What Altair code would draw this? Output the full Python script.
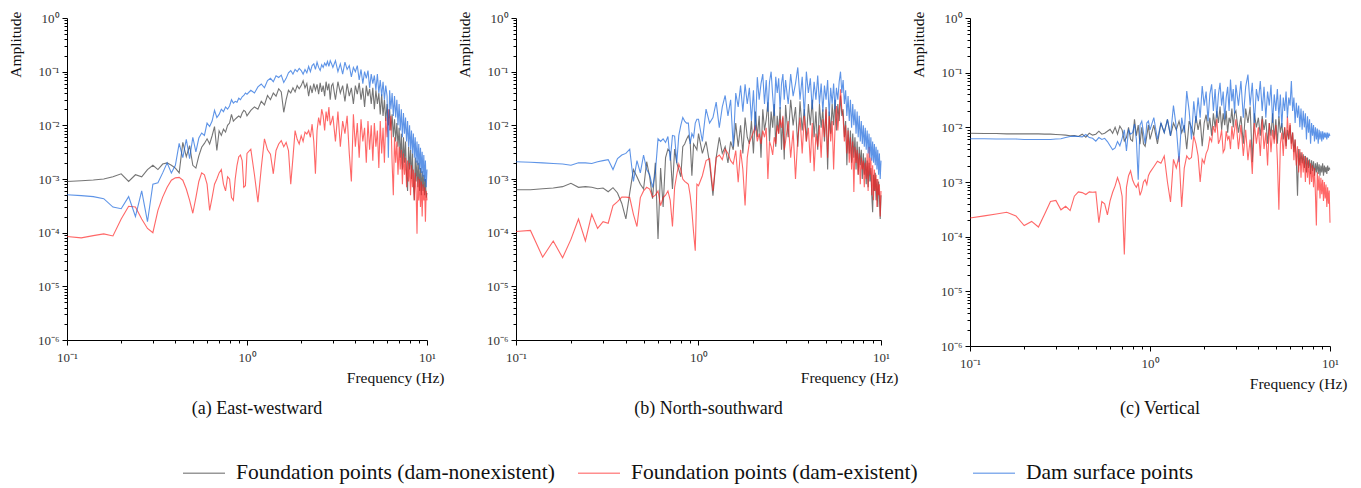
import altair as alt
import pandas as pd

# ---------------- frequency grid (Hz) ----------------
FREQ_LOW = [0.10, 0.12, 0.14, 0.16, 0.18, 0.20, 0.22, 0.24, 0.26, 0.28,
            0.30, 0.32, 0.34, 0.36, 0.38, 0.40, 0.42, 0.44, 0.46, 0.48,
            0.50, 0.52, 0.54, 0.56, 0.58, 0.60, 0.62, 0.64, 0.66, 0.68,
            0.70, 0.72, 0.74, 0.76, 0.78, 0.80, 0.82, 0.84, 0.86, 0.88,
            0.90, 0.92, 0.94, 0.96, 0.98]
FREQ_MID = [1.00, 1.05, 1.10, 1.15, 1.20, 1.25, 1.30, 1.35, 1.40, 1.45,
            1.50, 1.55, 1.60, 1.65, 1.70, 1.75, 1.80, 1.85, 1.90, 1.95,
            2.00, 2.05, 2.10, 2.15, 2.20, 2.25, 2.30, 2.35, 2.40, 2.45,
            2.50, 2.55, 2.60, 2.65, 2.70, 2.75, 2.80, 2.85, 2.90, 2.95]
FREQ_HIGH = [3.0, 3.1, 3.2, 3.3, 3.4, 3.5, 3.6, 3.7, 3.8, 3.9,
             4.0, 4.1, 4.2, 4.3, 4.4, 4.5, 4.6, 4.7, 4.8, 4.9,
             5.0, 5.1, 5.2, 5.3, 5.4, 5.5, 5.6, 5.7, 5.8, 5.9,
             6.0, 6.1, 6.2, 6.3, 6.4, 6.5, 6.6, 6.7, 6.8, 6.9,
             7.0, 7.1, 7.2, 7.3, 7.4, 7.5, 7.6, 7.7, 7.8, 7.9,
             8.0, 8.1, 8.2, 8.3, 8.4, 8.5, 8.6, 8.7, 8.8, 8.9,
             9.0, 9.1, 9.2, 9.3, 9.4, 9.5, 9.6, 9.7, 9.8, 9.9,
             10.0]
FREQ = FREQ_LOW + FREQ_MID + FREQ_HIGH

SERIES = ["Foundation points (dam-nonexistent)",
          "Foundation points (dam-existent)",
          "Dam surface points"]
COLORS = ["#333333", "#ff1f1f", "#1262dc"]

PANEL_TITLES = ["(a) East-westward", "(b) North-southward", "(c) Vertical"]

X_TICKS = [0.1, 0.2, 0.3, 0.4, 0.5, 0.6, 0.7, 0.8, 0.9,
           1, 2, 3, 4, 5, 6, 7, 8, 9, 10]
Y_TICKS = [1e-6, 2e-6, 3e-6, 4e-6, 5e-6, 6e-6, 7e-6, 8e-6, 9e-6,
           1e-5, 2e-5, 3e-5, 4e-5, 5e-5, 6e-5, 7e-5, 8e-5, 9e-5,
           1e-4, 2e-4, 3e-4, 4e-4, 5e-4, 6e-4, 7e-4, 8e-4, 9e-4,
           1e-3, 2e-3, 3e-3, 4e-3, 5e-3, 6e-3, 7e-3, 8e-3, 9e-3,
           1e-2, 2e-2, 3e-2, 4e-2, 5e-2, 6e-2, 7e-2, 8e-2, 9e-2,
           1e-1, 2e-1, 3e-1, 4e-1, 5e-1, 6e-1, 7e-1, 8e-1, 9e-1,
           1.0]

# ---------------- (a) East-westward ----------------
A_BLACK = [9e-4, 9.3e-4, 9.6e-4, 1.0e-3, 1.1e-3, 1.25e-3, 9e-4, 1.2e-3, 1.1e-3, 1.5e-3,
           1.8e-3, 1.5e-3, 1.9e-3, 2.0e-3, 1.8e-3, 1.6e-3, 1.3e-3, 4.8e-3, 2.6e-3, 4.2e-3,
           1.8e-3, 1.6e-3, 2.7e-3, 3.9e-3, 4.6e-3, 5.6e-3, 4.5e-3, 6.4e-3, 9.5e-3, 3.4e-3,
           7.9e-3, 6.5e-3, 8.5e-3, 7.5e-3, 1.0e-2, 1.1e-2, 1.6e-2, 1.2e-2, 1.3e-2, 1.4e-2,
           1.5e-2, 1.4e-2, 1.7e-2, 1.9e-2, 1.8e-2,
           1.5e-2, 1.9e-2, 2.2e-2, 2.0e-2, 2.8e-2, 2.4e-2, 3.6e-2, 3.0e-2, 4.0e-2, 3.5e-2,
           4.8e-2, 4.2e-2, 1.75e-2, 3.0e-2, 4.5e-2, 4.0e-2, 5.0e-2, 4.2e-2, 5.5e-2, 4.8e-2,
           5.5e-2, 6.8e-2, 5.0e-2, 6.0e-2, 3.5e-2, 5.5e-2, 4.0e-2, 6.0e-2, 4.5e-2, 5.8e-2,
           3.8e-2, 6.2e-2, 4.2e-2, 5.5e-2, 3.5e-2, 6.5e-2, 4.5e-2, 6.0e-2, 3.0e-2, 5.5e-2,
           6.0e-2, 3.0e-2, 6.5e-2, 4.0e-2, 5.5e-2, 2.8e-2, 6.0e-2, 3.5e-2, 5.0e-2, 2.5e-2,
           5.5e-2, 3.8e-2, 6.2e-2, 3.0e-2, 5.0e-2, 2.2e-2, 5.5e-2, 3.5e-2, 4.8e-2, 2.5e-2,
           5.0e-2, 2.0e-2, 4.5e-2, 2.5e-2, 4.0e-2, 1.6e-2, 3.8e-2, 1.5e-2, 3.0e-2, 1.2e-2,
           2.5e-2, 1.0e-2, 2.0e-2, 8e-3, 1.6e-2, 6e-3, 1.3e-2, 5e-3, 1.1e-2, 4e-3,
           9e-3, 2.5e-3, 7e-3, 1.5e-3, 6e-3, 2e-3, 5e-3, 1.2e-3, 6e-4, 4e-3,
           1.5e-3, 3.5e-3, 1e-3, 3e-3, 8e-4, 4e-4, 2.5e-3, 9e-4, 2.2e-3, 7e-4,
           2e-3, 6e-4, 1.6e-3, 5e-4, 1.4e-3, 6e-4, 1.2e-3, 5e-4, 1e-3, 4.5e-4,
           5.5e-4]
A_RED = [8.5e-5, 8e-5, 8.8e-5, 9.5e-5, 8.7e-5, 1.8e-4, 3.1e-4, 3.0e-4, 1.8e-4, 1.2e-4,
         1.0e-4, 2.6e-4, 4.6e-4, 7e-4, 9.5e-4, 1.05e-3, 1.07e-3, 9.5e-4, 6.5e-4, 4e-4,
         2.3e-4, 4.5e-4, 9e-4, 1.3e-3, 1.2e-3, 8e-4, 2.6e-4, 4.5e-4, 8e-4, 1.0e-3,
         1.3e-3, 1.5e-3, 8e-4, 6e-4, 1.1e-3, 1.0e-3, 4.5e-4, 4e-4, 1.0e-3, 1.8e-3,
         2.6e-3, 2.8e-3, 2.2e-3, 7e-4, 7.5e-4,
         3.0e-3, 3.6e-3, 1.2e-3, 3.7e-4, 1.6e-3, 5.6e-3, 3.5e-3, 2.9e-3, 1.25e-3, 3.4e-3,
         4.5e-3, 5.2e-3, 4.0e-3, 4.8e-3, 3.4e-3, 8e-4, 2.5e-3, 8e-3, 5.5e-3, 4.5e-3,
         6.4e-3, 5.0e-3, 7.5e-3, 6.9e-3, 8.0e-3, 6.0e-3, 1.05e-2, 5.0e-3, 1.25e-3, 8.0e-3,
         1.4e-2, 1.0e-2, 2.0e-2, 1.5e-2, 8.0e-3, 1.8e-2, 1.2e-2, 2.2e-2, 1.0e-2, 1.2e-2,
         1.5e-2, 5e-3, 1.8e-2, 4e-3, 1.2e-2, 7e-3, 1.5e-2, 3e-3, 9e-4, 1.6e-2,
         4e-3, 1.1e-2, 2.5e-3, 1.3e-2, 5e-3, 9e-3, 2e-3, 1.2e-2, 3.5e-3, 1.0e-2,
         2.2e-3, 1.1e-2, 4e-3, 8e-3, 1.6e-3, 1.2e-2, 3e-3, 9e-3, 2e-3, 1.4e-2,
         6e-3, 2e-2, 8e-3, 1.5e-2, 2e-3, 5e-4, 6e-3, 2e-3, 5e-3, 1.2e-3,
         4e-3, 1.5e-3, 3.5e-3, 8e-4, 3e-3, 1.2e-3, 2.5e-3, 7e-4, 2.2e-3, 9e-4,
         2e-3, 5e-4, 1.8e-3, 7e-4, 1.5e-3, 4e-4, 1.3e-3, 6e-4, 9.5e-5, 1.1e-3,
         4e-4, 1e-3, 3e-4, 9e-4, 2e-4, 8e-4, 4e-4, 7e-4, 1.6e-4, 6e-4,
         4e-4]
A_BLUE = [5.1e-4, 4.9e-4, 4.7e-4, 4.3e-4, 3.0e-4, 2.8e-4, 4.7e-4, 2.0e-4, 6.0e-4, 1.6e-4,
          8.0e-4, 8.5e-4, 1.3e-3, 2.0e-3, 1.3e-3, 1.8e-3, 4.6e-3, 2.5e-3, 5.5e-3, 2.4e-3,
          6.0e-3, 3.2e-3, 5.8e-3, 7.2e-3, 6.5e-3, 1.1e-2, 9.5e-3, 1.2e-2, 1.9e-2, 1.4e-2,
          1.6e-2, 2.0e-2, 1.8e-2, 2.2e-2, 2.0e-2, 2.3e-2, 3.0e-2, 2.6e-2, 2.8e-2, 2.7e-2,
          3.2e-2, 3.0e-2, 3.4e-2, 3.6e-2, 4.0e-2,
          3.8e-2, 4.5e-2, 4.0e-2, 5.2e-2, 5.9e-2, 5.0e-2, 6.8e-2, 7.5e-2, 6.5e-2, 8.4e-2,
          7.8e-2, 8.6e-2, 6.3e-2, 7.5e-2, 9.5e-2, 1.05e-1, 9.0e-2, 1.1e-1, 1.0e-1, 1.15e-1,
          1.05e-1, 9.0e-2, 1.1e-1, 9.5e-2, 1.25e-1, 1.0e-1, 1.3e-1, 1.4e-1, 1.1e-1, 1.5e-1,
          1.2e-1, 1.05e-1, 1.35e-1, 1.2e-1, 1.45e-1, 1.3e-1, 1.55e-1, 1.25e-1, 1.6e-1, 1.4e-1,
          1.2e-1, 1.6e-1, 1.0e-1, 1.4e-1, 9e-2, 1.5e-1, 1.1e-1, 1.3e-1, 8e-2, 1.2e-1,
          1.0e-1, 1.3e-1, 7e-2, 1.1e-1, 6e-2, 1.0e-1, 7.5e-2, 1.05e-1, 5e-2, 9e-2,
          6e-2, 8.5e-2, 4.5e-2, 9e-2, 4e-2, 7e-2, 3.5e-2, 6.5e-2, 3e-2, 5.5e-2,
          3.5e-2, 2.5e-3, 4.5e-2, 2e-2, 4e-2, 1.5e-2, 3.5e-2, 1.4e-2, 3e-2, 1e-2,
          2.5e-2, 8e-3, 2e-2, 6e-3, 1.7e-2, 7e-3, 1.4e-2, 5e-3, 1.2e-2, 4e-3,
          1e-2, 3.5e-3, 8e-3, 3e-3, 7e-3, 2.5e-3, 6e-3, 2e-3, 5e-3, 1.8e-3,
          4.5e-3, 1.5e-3, 3.8e-3, 1.3e-3, 3.2e-3, 1.1e-3, 2.8e-3, 9e-4, 2.2e-3, 7e-4,
          1.5e-3]

# ---------------- (b) North-southward ----------------
B_BLACK = [6.3e-4, 6.3e-4, 6.6e-4, 6.8e-4, 7.2e-4, 8.3e-4, 7.0e-4, 7.2e-4, 7.0e-4, 6.6e-4,
           6.8e-4, 5.8e-4, 6.9e-4, 5.5e-4, 3.5e-4, 1.8e-4, 5.5e-4, 1.5e-3, 1.1e-3, 8e-4,
           6.5e-4, 2.1e-3, 1.1e-3, 4.3e-4, 2.0e-3, 7.6e-5, 1.6e-3, 3e-4, 2.5e-3, 3.6e-3,
           3.2e-3, 6.5e-4, 3.6e-3, 2.0e-3, 1.5e-3, 1.1e-3, 4e-3, 4.5e-3, 5.5e-3, 6.4e-3,
           5e-3, 1.15e-3, 4.5e-3, 4e-3, 3.5e-3,
           7e-3, 3e-3, 5e-3, 2e-3, 4.9e-4, 2.5e-3, 6e-3, 3e-3, 4e-3, 2e-3,
           5e-3, 3.5e-3, 1.1e-2, 4e-3, 1.0e-2, 3e-3, 1.4e-2, 6e-3, 4.5e-3, 1.2e-2,
           3e-3, 1.8e-2, 6e-3, 1.5e-2, 2.5e-3, 2.0e-2, 8e-3, 1.3e-2, 2.7e-2, 5e-3,
           1.8e-2, 9e-3, 2.5e-2, 4e-3, 1.5e-2, 7e-3, 2.2e-2, 3.5e-3, 1.4e-2, 2.3e-3,
           2.4e-2, 6e-3, 3.0e-2, 1e-2, 2.2e-2, 4e-3, 2.8e-2, 8e-3, 2.0e-2, 5e-3,
           2.5e-2, 1.0e-2, 3.0e-2, 6e-3, 1.8e-2, 3.5e-3, 2.5e-2, 9e-3, 2.0e-2, 5e-3,
           2.2e-2, 1.5e-3, 1.8e-2, 7e-3, 2.5e-2, 1.0e-2, 3.0e-2, 8e-3, 2.5e-2, 1.2e-2,
           3.6e-2, 1.5e-2, 2.0e-2, 6e-3, 1.2e-2, 1.8e-3, 9e-3, 3e-3, 8e-3, 2e-3,
           7e-3, 2.5e-3, 6e-3, 1.5e-3, 5e-3, 1.2e-3, 4e-3, 1.8e-3, 3.5e-3, 1e-3,
           3e-3, 1.2e-3, 2.5e-3, 8e-4, 2.2e-3, 7e-4, 2e-3, 9e-4, 1.6e-3, 5e-4,
           2.4e-4, 1.2e-3, 6e-4, 1.3e-3, 4e-4, 1e-3, 3e-4, 9e-4, 5e-4, 1.8e-4,
           5e-4]
B_RED = [1.05e-4, 1.1e-4, 3.5e-5, 7e-5, 3.4e-5, 7.5e-5, 1.8e-4, 7e-5, 2.2e-4, 1.2e-4,
         1.6e-4, 1.5e-4, 3.2e-4, 3.8e-4, 4.6e-4, 4.6e-4, 4.5e-4, 2.2e-4, 1.3e-4, 4.5e-4,
         6e-4, 7e-4, 6.5e-4, 4.6e-4, 5e-4, 6e-4, 3.2e-4, 4.5e-4, 5e-4, 6e-4,
         4e-4, 1.3e-4, 7e-4, 1.2e-3, 1.9e-3, 1.5e-3, 1.0e-3, 9e-4, 8.5e-4, 8e-4,
         5e-4, 2.5e-4, 1e-4, 4.6e-5, 8e-4,
         7.5e-4, 1.15e-3, 2.2e-3, 2.4e-3, 6e-4, 2.5e-3, 2.8e-3, 2.3e-3, 3.6e-3, 3.0e-3,
         2.2e-3, 1.9e-3, 3.4e-3, 8.7e-4, 3.5e-3, 1.5e-3, 3.2e-4, 2.5e-3, 4.8e-3, 6e-3,
         7.5e-3, 1.0e-2, 5e-3, 7e-3, 4.5e-3, 8e-3, 6e-3, 9e-3, 1.0e-3, 5e-3,
         4e-3, 2.8e-3, 6e-3, 4.5e-3, 1.0e-2, 7e-3, 1.3e-2, 9e-3, 1.5e-2, 3.5e-3,
         5e-3, 1.2e-2, 2.5e-3, 8e-3, 1.0e-3, 6e-3, 1.4e-2, 3e-3, 1.5e-2, 5e-3,
         9e-3, 2e-3, 1.1e-2, 1.4e-3, 7e-3, 4e-3, 1.0e-2, 2.5e-3, 1.3e-2, 6e-3,
         2.0e-2, 2.5e-3, 1.5e-2, 5e-3, 1.2e-2, 1.5e-3, 9e-3, 2.3e-2, 8e-3, 1.8e-2,
         4.7e-2, 2.0e-2, 1.4e-2, 5e-3, 1.0e-2, 3e-3, 8e-3, 2e-3, 6e-3, 1.5e-3,
         5e-3, 5.7e-4, 4e-3, 2e-3, 3.5e-3, 1.2e-3, 3e-3, 8e-4, 2.5e-3, 1.5e-3,
         2.2e-3, 7e-4, 2e-3, 1e-3, 3e-3, 6e-4, 4e-3, 1.2e-3, 2.5e-3, 5e-4,
         1.8e-3, 4e-4, 1.5e-3, 6e-4, 1.2e-3, 3e-4, 1e-3, 5e-4, 8e-4, 2e-4,
         6e-4]
B_BLUE = [2.1e-3, 2.05e-3, 2.0e-3, 1.95e-3, 1.9e-3, 1.8e-3, 2.0e-3, 2.0e-3, 1.95e-3, 2.1e-3,
          2.2e-3, 2.3e-3, 1.5e-3, 2.4e-3, 2.8e-3, 3.0e-3, 3.6e-3, 9e-4, 2.2e-3, 1.3e-3,
          2.8e-3, 1.5e-3, 1.2e-3, 7e-4, 1.3e-3, 5.6e-3, 5.0e-3, 5.6e-3, 4.8e-3, 6.2e-3,
          2.2e-3, 6.5e-3, 6.3e-3, 2.0e-3, 6.5e-3, 1.0e-2, 1.4e-2, 1.2e-2, 1.1e-2, 1.1e-2,
          4.5e-3, 7e-3, 6e-3, 1.1e-2, 1.3e-2,
          1.3e-2, 5e-3, 2.0e-2, 1.1e-2, 1.4e-2, 2.7e-2, 9e-3, 2.2e-2, 3.6e-2, 1.5e-2,
          3.0e-2, 4e-3, 4.0e-2, 2.2e-2, 5.5e-2, 1.8e-2, 5.8e-2, 2.5e-2, 5.0e-2, 1.2e-2,
          4.5e-2, 8e-3, 7.9e-2, 3.0e-2, 6.0e-2, 9.0e-2, 2.5e-2, 7.0e-2, 1.8e-2, 6.5e-2,
          1.0e-1, 3.5e-2, 1.5e-2, 8.0e-2, 4.0e-2, 7.5e-2, 2.0e-2, 6.0e-2, 9.0e-2, 3.0e-2,
          7.0e-2, 2.5e-2, 9.0e-2, 3.5e-2, 6.0e-2, 1.2e-1, 3.0e-2, 8.0e-2, 1.5e-2, 1.0e-1,
          4.0e-2, 7.5e-2, 2.0e-2, 6.5e-2, 3.0e-2, 8.5e-2, 2.5e-2, 6.0e-2, 1.8e-2, 5.5e-2,
          3.0e-2, 7.0e-2, 1.5e-2, 5.0e-2, 2.5e-2, 6.0e-2, 2.0e-2, 5.0e-2, 3.0e-2, 6.5e-2,
          1.0e-1, 4.0e-2, 7.0e-2, 2.5e-2, 4.5e-2, 1.5e-2, 3.5e-2, 1.2e-2, 3.0e-2, 9e-3,
          2.5e-2, 1.0e-2, 2.0e-2, 7e-3, 1.8e-2, 6e-3, 1.5e-2, 5e-3, 1.2e-2, 4.5e-3,
          1.0e-2, 4e-3, 9e-3, 3.5e-3, 8e-3, 3e-3, 7e-3, 2.5e-3, 6e-3, 2.2e-3,
          5e-3, 2e-3, 4.5e-3, 1.8e-3, 4e-3, 1.5e-3, 3.5e-3, 1.2e-3, 3e-3, 1e-3,
          2.2e-3]

# ---------------- (c) Vertical ----------------
C_BLACK = [7.8e-3, 7.7e-3, 7.7e-3, 7.6e-3, 7.6e-3, 7.6e-3, 7.6e-3, 7.6e-3, 7.5e-3, 7.5e-3,
           7.4e-3, 7.3e-3, 7.2e-3, 7.0e-3, 7.1e-3, 6.8e-3, 7.5e-3, 6.6e-3, 7.8e-3, 7.2e-3,
           7.5e-3, 8.5e-3, 7.5e-3, 7.8e-3, 8.5e-3, 9.2e-3, 7.8e-3, 1.0e-2, 7.5e-3, 1.05e-2,
           9e-3, 5.6e-3, 6.5e-3, 1.0e-2, 6e-3, 5.6e-3, 1.4e-2, 7e-3, 1.1e-2, 4.9e-3,
           1.0e-2, 5e-3, 4.5e-3, 7e-3, 1.1e-2,
           6e-3, 1.1e-2, 5e-3, 1.2e-2, 8e-3, 1.4e-2, 7e-3, 1.2e-2, 9e-3, 1.3e-2,
           8e-3, 1.1e-2, 4e-3, 1.3e-2, 1.0e-2, 7e-3, 1.6e-2, 9e-3, 1.4e-2, 4.5e-3,
           1.2e-2, 1.7e-2, 9e-3, 1.5e-2, 7e-3, 1.8e-2, 1.0e-2, 2.0e-2, 1.2e-2, 2.4e-2,
           9e-3, 1.8e-2, 1.1e-2, 2.0e-2, 8e-3, 1.5e-2, 1.2e-2, 2.2e-2, 1.0e-2, 1.8e-2,
           2.0e-2, 8e-3, 1.6e-2, 5e-3, 2.2e-2, 1.2e-2, 2.4e-2, 2.3e-3, 1.8e-2, 1.0e-2,
           1.5e-2, 7e-3, 1.6e-2, 9e-3, 1.4e-2, 5e-3, 1.2e-2, 7e-3, 1.8e-2, 6e-3,
           1.4e-2, 5e-3, 1.6e-2, 8e-3, 1.2e-2, 6e-3, 1.0e-2, 4.5e-3, 9e-3, 6e-3,
           1.1e-2, 5e-3, 8e-3, 3.5e-3, 6e-3, 2.5e-3, 5.6e-4, 4e-3, 2e-3, 3.5e-3,
           2.2e-3, 3.2e-3, 1.8e-3, 3e-3, 1.5e-3, 2.8e-3, 1.8e-3, 2.6e-3, 1.4e-3, 2.5e-3,
           1.6e-3, 2.4e-3, 1.3e-3, 2.2e-3, 1.5e-3, 2.3e-3, 1.4e-3, 2.1e-3, 1.3e-3, 2.0e-3,
           1.5e-3, 2.2e-3, 1.3e-3, 2.0e-3, 1.5e-3, 1.9e-3, 1.4e-3, 2.0e-3, 1.6e-3, 1.8e-3,
           1.7e-3]
C_RED = [2.2e-4, 2.4e-4, 2.6e-4, 2.8e-4, 2.4e-4, 1.6e-4, 1.9e-4, 1.5e-4, 2.6e-4, 4.4e-4,
         4.6e-4, 3.1e-4, 3.6e-4, 3.0e-4, 5.5e-4, 6.6e-4, 6.4e-4, 5.9e-4, 6.6e-4, 6.5e-4,
         6.6e-4, 1.8e-4, 4.4e-4, 4.0e-4, 2.5e-4, 4.5e-4, 6.5e-4, 8.5e-4, 1.2e-3, 9e-4,
         5.5e-4, 4.7e-5, 8e-4, 1.3e-3, 1.6e-3, 1.1e-3, 9e-4, 8e-4, 9.5e-4, 5.7e-4,
         7e-4, 1.0e-3, 1.1e-3, 9e-4, 1.3e-3,
         1.5e-3, 1.9e-3, 2.4e-3, 2.2e-3, 3.0e-3, 1.0e-3, 4.3e-4, 2.6e-3, 1.8e-3, 3.0e-3,
         3.5e-4, 1.8e-3, 3.0e-3, 2.6e-3, 2.8e-3, 7e-3, 5e-3, 3e-3, 1.0e-3, 2.6e-3,
         2.2e-3, 3.3e-3, 4.0e-3, 6.5e-3, 5.5e-3, 1.05e-2, 8e-3, 1.4e-2, 5e-3, 6e-3,
         9e-3, 3.5e-3, 4e-3, 8.5e-3, 6e-3, 7e-3, 4e-3, 1.05e-2, 6e-3, 9e-3,
         1.4e-2, 4e-3, 1.1e-2, 3e-3, 9e-3, 2.5e-3, 6e-3, 1.4e-3, 1.2e-2, 5e-3,
         1.0e-2, 3e-3, 1.4e-2, 4e-3, 8e-3, 2e-3, 1.2e-2, 3.5e-3, 9e-3, 5e-3,
         1.1e-2, 2.5e-3, 3.1e-4, 5e-3, 8e-3, 3e-3, 1.0e-2, 4e-3, 1.6e-2, 6e-3,
         1.2e-2, 4e-3, 8e-3, 2.5e-3, 6e-3, 2e-3, 4.5e-3, 1.5e-3, 4e-3, 1.2e-3,
         3.5e-3, 1.5e-3, 3e-3, 1e-3, 2.8e-3, 1.2e-3, 2.5e-3, 9e-4, 2.2e-3, 1e-3,
         2e-3, 8e-4, 1.8e-3, 6e-4, 1.6e-4, 1.5e-3, 7e-4, 1.3e-3, 5e-4, 1.2e-3,
         6e-4, 1.1e-3, 4.5e-4, 1e-3, 5e-4, 9e-4, 3.5e-4, 8e-4, 4e-4, 7e-4,
         1.8e-4]
C_BLUE = [6.2e-3, 6.2e-3, 6.1e-3, 6.1e-3, 6.1e-3, 6.0e-3, 6.0e-3, 6.0e-3, 6.0e-3, 6.0e-3,
          6.1e-3, 6.2e-3, 6.5e-3, 6.8e-3, 6.9e-3, 6.8e-3, 6.7e-3, 7.4e-3, 6.5e-3, 6.3e-3,
          5.6e-3, 6.5e-3, 6.0e-3, 6.3e-3, 5.5e-3, 4.6e-3, 3.9e-3, 4.2e-3, 5.5e-3, 4.6e-3,
          6.3e-3, 9e-3, 3.7e-3, 9e-3, 7.5e-3, 8e-3, 1.15e-2, 6e-3, 1.1e-3, 1.1e-2,
          1.3e-2, 8e-3, 5e-3, 1.2e-2, 1.3e-2,
          9e-3, 1.5e-2, 6e-3, 1.2e-2, 8e-3, 1.4e-2, 7e-3, 2.5e-2, 1.0e-2, 2.3e-3,
          1.5e-2, 8e-3, 4.6e-2, 2.0e-2, 6e-3, 3.0e-2, 1.2e-2, 3.5e-2, 1.5e-2, 5.7e-2,
          2.5e-2, 4.5e-2, 1.3e-2, 4.0e-2, 6.1e-2, 2.0e-2, 5.0e-2, 1.5e-2, 4.0e-2, 6.5e-2,
          2.5e-2, 4.5e-2, 1.4e-2, 3.5e-2, 5.5e-2, 2.0e-2, 7.5e-2, 3.0e-2, 5.0e-2, 1.8e-2,
          6.0e-2, 2.5e-2, 7.0e-2, 1.5e-2, 5.5e-2, 9.2e-2, 2.5e-2, 6.5e-2, 1.2e-2, 5.0e-2,
          3.0e-2, 7.0e-2, 2.0e-2, 5.5e-2, 1.5e-2, 4.5e-2, 2.5e-2, 6.0e-2, 1.2e-2, 4.0e-2,
          2.0e-2, 5.0e-2, 1.5e-2, 4.0e-2, 1.0e-2, 3.5e-2, 2.0e-2, 4.5e-2, 1.5e-2, 3.5e-2,
          2.5e-2, 7.0e-2, 2.0e-2, 3.5e-2, 1.2e-2, 2.8e-2, 1.5e-2, 2.5e-2, 1.0e-2, 2.2e-2,
          9e-3, 2.0e-2, 1.0e-2, 1.8e-2, 6e-3, 1.6e-2, 8e-3, 1.4e-2, 5e-3, 1.2e-2,
          7e-3, 1.1e-2, 5.5e-3, 1.0e-2, 6e-3, 9.5e-3, 5e-3, 9e-3, 6e-3, 8.5e-3,
          5.5e-3, 8.5e-3, 6e-3, 8e-3, 6.5e-3, 8e-3, 6e-3, 8e-3, 6.5e-3, 7.5e-3,
          7e-3]

# (title, series values, width, height, subtitle offset)
PANELS = [
    (PANEL_TITLES[0], [A_BLACK, A_RED, A_BLUE], 360, 322, 14),
    (PANEL_TITLES[1], [B_BLACK, B_RED, B_BLUE], 365, 322, 14),
    (PANEL_TITLES[2], [C_BLACK, C_RED, C_BLUE], 360, 328, 8),
]

for title, series_vals, _, _, _ in PANELS:
    for name, vals in zip(SERIES, series_vals):
        if len(vals) != len(FREQ):
            raise ValueError(f"{title} / {name}: {len(vals)} values, expected {len(FREQ)}")

FONT = "Liberation Serif"
MAJOR_TEST = "abs(log(datum.value)/LN10 - round(log(datum.value)/LN10)) < 0.01"
Y_LABEL_EXPR = (MAJOR_TEST + " ? (datum.value > 0.5 ? '10\u2070' : '10\u207b' + "
                "['','\u00b9','\u00b2','\u00b3','\u2074','\u2075','\u2076']"
                "[round(-log(datum.value)/LN10)]) : ''")
X_LABEL_EXPR = ("datum.value < 0.15 ? '10\u207b\u00b9' : (abs(datum.value - 1) < 0.01 ? '10\u2070' : "
                "(datum.value > 9.5 ? '10\u00b9' : ''))")
TICK_SIZE = {"condition": {"test": MAJOR_TEST, "value": 5}, "value": 3}


def make_panel(title, series_vals, width, height, title_offset):
    x = alt.X("f:Q",
              scale=alt.Scale(type="log", domain=[0.1, 10], nice=False),
              axis=alt.Axis(values=X_TICKS, labelExpr=X_LABEL_EXPR, tickSize=TICK_SIZE,
                            grid=False, labelOverlap=False, labelFlush=False,
                            labelPadding=6, title="Frequency (Hz)",
                            titleX=width + 17, titleY=37, titleAlign="right",
                            titleBaseline="middle", titleAnchor="end"))
    y = alt.Y("a:Q",
              scale=alt.Scale(type="log", domain=[1e-6, 1], nice=False),
              axis=alt.Axis(values=Y_TICKS, labelExpr=Y_LABEL_EXPR, tickSize=TICK_SIZE,
                            grid=False, labelOverlap=False, labelFlush=False,
                            labelPadding=3, title="Amplitude",
                            titleX=-52, titleY=-7, titleAlign="right",
                            titleBaseline="middle", titleAngle=270))
    color = alt.Color("s:N",
                      scale=alt.Scale(domain=SERIES, range=COLORS),
                      legend=alt.Legend(title=None, orient="none", legendX=115, legendY=433,
                                        direction="horizontal", symbolType="stroke",
                                        symbolSize=1764, symbolStrokeWidth=1.5,
                                        symbolOpacity=0.5, labelFontSize=21.5,
                                        labelFont=FONT, labelColor="#111111",
                                        labelOffset=10, labelLimit=0,
                                        columnPadding=20, gridAlign="all"))
    layers = []
    for name, vals in zip(SERIES, series_vals):
        df = pd.DataFrame({"f": FREQ, "a": vals, "s": name})
        layers.append(alt.Chart(df).mark_line(strokeWidth=1.1, opacity=0.68)
                      .encode(x=x, y=y, color=color))
    return alt.layer(*layers).properties(
        width=width, height=height,
        title=alt.TitleParams(title, orient="bottom", frame="group", anchor="middle",
                              dx=10, offset=title_offset, fontSize=18, font=FONT,
                              fontWeight="normal", color="#111111"))


charts = [make_panel(*p) for p in PANELS]

chart = alt.hconcat(*charts, spacing=89, bounds="flush").properties(
    padding={"left": 0, "top": 3, "right": 5, "bottom": 2}
).configure_view(stroke=None).configure_axis(
    labelFont=FONT, labelFontSize=13, labelColor="#333333",
    titleFont=FONT, titleFontSize=15.5, titleFontWeight="normal", titleColor="#111111",
    domainColor="#000000", domainWidth=1, tickColor="#000000", tickWidth=1
)

chart.save("out.html", embed_options={"renderer": "svg", "actions": False})
